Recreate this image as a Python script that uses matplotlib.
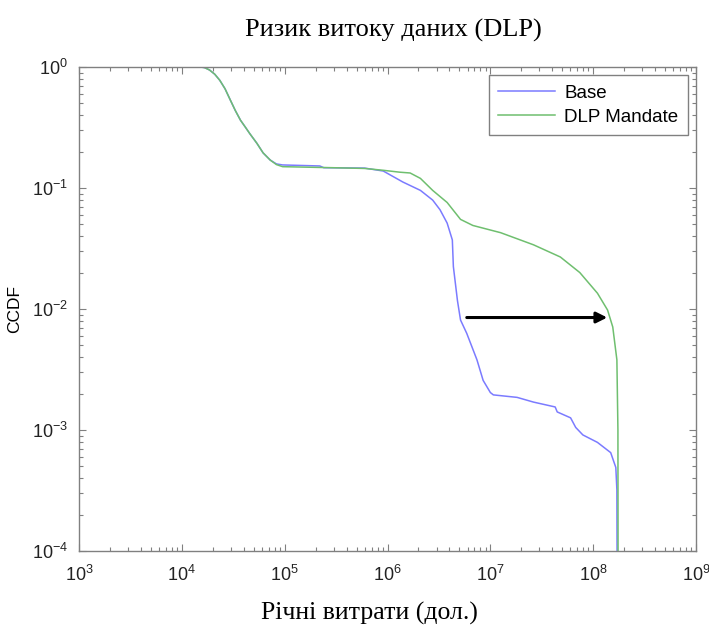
import numpy as np
import matplotlib
matplotlib.use("Agg")
import matplotlib.pyplot as plt
from matplotlib.ticker import LogLocator, NullFormatter

# =========================================================
# 1. DATA
# =========================================================
base_x = [1.0e4, 1.51e4, 1.66e4, 1.86e4, 2.09e4, 2.34e4, 2.63e4, 2.95e4, 3.31e4, 3.72e4,
          4.17e4, 4.57e4, 5.37e4, 6.17e4, 7.24e4, 8.32e4, 9.55e4, 2.2e5, 2.4e5, 6.0e5,
          9.1e5, 1.41e6, 2.09e6, 2.75e6, 3.24e6, 3.8e6, 4.27e6, 4.37e6, 4.79e6, 5.13e6,
          5.89e6, 7.41e6, 8.51e6, 1.0e7, 1.07e7, 1.82e7, 2.63e7, 4.27e7, 4.47e7, 6.03e7,
          6.76e7, 7.94e7, 1.10e8, 1.48e8, 1.66e8, 1.70e8, 1.72e8]
base_y = [1.0, 1.0, 0.989, 0.944, 0.871, 0.776, 0.661, 0.537, 0.437, 0.363,
          0.316, 0.282, 0.234, 0.195, 0.170, 0.158, 0.155, 0.152, 0.147, 0.146,
          0.138, 0.112, 0.0955, 0.0794, 0.0661, 0.0513, 0.0372, 0.0224, 0.0117, 0.0081,
          0.0063, 0.0038, 0.00257, 0.00204, 0.00195, 0.00186, 0.0017, 0.00155, 0.00141, 0.00126,
          0.00105, 0.00091, 0.00079, 0.00065, 0.00049, 0.00032, 1e-5]

dlp_x = [1.0e4, 1.51e4, 1.66e4, 1.86e4, 2.09e4, 2.34e4, 2.63e4, 2.95e4, 3.31e4, 3.72e4,
         4.17e4, 4.57e4, 5.37e4, 6.17e4, 7.24e4, 8.32e4, 9.55e4, 3.0e5, 6.0e5, 9.1e5,
         1.32e6, 1.66e6, 2.09e6, 2.75e6, 3.8e6, 5.13e6, 6.76e6, 1.26e7, 2.63e7, 4.79e7,
         7.41e7, 1.10e8, 1.38e8, 1.55e8, 1.70e8, 1.74e8, 1.75e8]
dlp_y = [1.0, 1.0, 0.989, 0.944, 0.871, 0.776, 0.661, 0.537, 0.437, 0.363,
         0.316, 0.282, 0.234, 0.195, 0.170, 0.156, 0.150, 0.147, 0.145, 0.140,
         0.135, 0.133, 0.120, 0.0955, 0.0759, 0.055, 0.049, 0.0427, 0.0339, 0.0269,
         0.020, 0.0135, 0.0098, 0.0071, 0.0038, 0.001, 1e-5]

arrow_from = (5.9e6, 0.0085)
arrow_to = (1.37e8, 0.0085)

title = "Ризик витоку даних (DLP)"
xlabel = "Річні витрати (дол.)"
ylabel = "CCDF"
series_names = ["Base", "DLP Mandate"]

# =========================================================
# 2. PLOT
# =========================================================
plt.rcParams['font.family'] = ['Liberation Sans', 'DejaVu Sans']
plt.rcParams['axes.unicode_minus'] = False
grey = '#808080'

fig = plt.figure(figsize=(7.09, 6.30), dpi=100)
ax = fig.add_axes([0.1114, 0.1254, 0.8703, 0.7683])

ax.plot(base_x, base_y, color='#7b7bff', lw=1.1, label=series_names[0])
ax.plot(dlp_x, dlp_y, color='#6fbf6f', lw=1.1, label=series_names[1])

ax.set_xscale('log')
ax.set_yscale('log')
ax.set_xlim(1e3, 1e9)
ax.set_ylim(1e-4, 1e0)

ax.xaxis.set_major_locator(LogLocator(base=10, numticks=20))
ax.yaxis.set_major_locator(LogLocator(base=10, numticks=20))
ax.xaxis.set_minor_locator(LogLocator(base=10, subs=np.arange(2, 10), numticks=20))
ax.yaxis.set_minor_locator(LogLocator(base=10, subs=np.arange(2, 10), numticks=20))
ax.xaxis.set_minor_formatter(NullFormatter())
ax.yaxis.set_minor_formatter(NullFormatter())

ax.tick_params(which='both', direction='in', top=True, right=True, color=grey,
               labelsize=13, labelcolor='#222222')
ax.tick_params(which='major', length=5, width=0.8)
ax.tick_params(axis='x', which='major', pad=10)
ax.tick_params(axis='y', which='major', pad=8)
ax.tick_params(which='minor', length=3, width=0.8)
for s in ax.spines.values():
    s.set_color(grey)
    s.set_linewidth(1.0)

ax.annotate('', xy=arrow_to, xytext=arrow_from,
            arrowprops=dict(arrowstyle='-|>', color='black', lw=2.2,
                            mutation_scale=16, shrinkA=0, shrinkB=0))

leg = ax.legend(loc='upper right', fontsize=13.5, fancybox=False, edgecolor=grey,
                framealpha=1, borderaxespad=0.45, handlelength=3.0,
                handletextpad=0.5, borderpad=0.5, labelspacing=0.35)
leg.get_frame().set_linewidth(1.0)

ax.set_title(title, family=['Liberation Serif'], fontsize=19, pad=22, x=0.51)
ax.set_xlabel(xlabel, family=['Liberation Serif'], fontsize=18.5)
ax.xaxis.set_label_coords(0.47, -0.105)
ax.set_ylabel(ylabel, fontsize=12.5)
ax.yaxis.set_label_coords(-0.092, 0.5)

fig.savefig("out.png", dpi=100)
